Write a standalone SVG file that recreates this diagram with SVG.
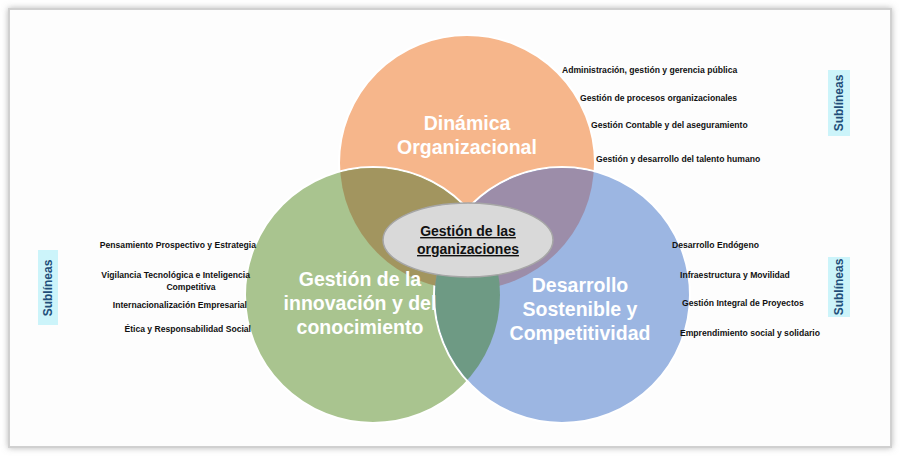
<svg xmlns="http://www.w3.org/2000/svg" width="900" height="456" viewBox="0 0 900 456">
<defs>
<filter id="sh" x="-5%" y="-5%" width="110%" height="110%"><feDropShadow dx="0" dy="0" stdDeviation="3" flood-color="#888" flood-opacity="0.6"/></filter>
<clipPath id="co"><circle cx="467" cy="163" r="127"/></clipPath>
<clipPath id="cg"><circle cx="373" cy="295" r="127"/></clipPath>
</defs>
<style>
.c{stroke:#fff;stroke-width:2}
.t{font-family:"Liberation Sans",Arial,sans-serif;font-weight:bold;fill:#fff;font-size:19.5px;text-anchor:middle}
.s{font-family:"Liberation Sans",Arial,sans-serif;font-weight:bold;font-size:8.6px;fill:#111}
.sb{fill:#CCF4FA}
.sl{font-family:"Liberation Sans",Arial,sans-serif;font-weight:bold;font-size:12px;fill:#1F4E79;text-anchor:middle}
</style>
<rect x="0" y="0" width="900" height="456" fill="#fff"/>
<rect x="9" y="9" width="882" height="438" fill="#fdfdfd" stroke="#d0d0d0" stroke-width="2" filter="url(#sh)"/>
<g id="dinamica"><circle class="c" cx="467" cy="163" r="128" fill="#F6B68B"/></g>
<g id="innovacion"><circle class="c" cx="373" cy="295" r="128" fill="#A9C48F"/></g>
<g id="desarrollo"><circle class="c" cx="562" cy="295" r="128" fill="#9CB6E2"/></g>
<circle cx="373" cy="295" r="127" fill="#A2955F" clip-path="url(#co)"/>
<circle cx="562" cy="295" r="127" fill="#9C8DA9" clip-path="url(#co)"/>
<circle cx="562" cy="295" r="127" fill="#6E9A84" clip-path="url(#cg)"/>
<text class="t" x="467" y="130">Dinámica</text>
<text class="t" x="467" y="154">Organizacional</text>
<text class="t" x="360" y="286">Gestión de la</text>
<text class="t" x="360" y="310">innovación y del</text>
<text class="t" x="360" y="334">conocimiento</text>
<text class="t" x="580" y="292">Desarrollo</text>
<text class="t" x="580" y="316">Sostenible y</text>
<text class="t" x="580" y="340">Competitividad</text>
<g id="centro">
<ellipse cx="468" cy="240" rx="85" ry="37" fill="#D9D9D9" stroke="#A6A6A6" stroke-width="1.5"/>
<text x="468" y="236" font-family="Liberation Sans,Arial,sans-serif" font-weight="bold" font-size="14" text-anchor="middle" text-decoration="underline" fill="#111">Gestión de las</text>
<text x="468" y="254" font-family="Liberation Sans,Arial,sans-serif" font-weight="bold" font-size="14" text-anchor="middle" text-decoration="underline" fill="#111">organizaciones</text>
</g>
<g id="sub-top">
<text class="s" x="562" y="73">Administración, gestión y gerencia pública</text>
<text class="s" x="580" y="101">Gestión de procesos organizacionales</text>
<text class="s" x="591" y="128">Gestión Contable y del aseguramiento</text>
<text class="s" x="596" y="162">Gestión y desarrollo del talento humano</text>
</g>
<g id="sub-left">
<text class="s" x="256" y="248" text-anchor="end">Pensamiento Prospectivo y Estrategia</text>
<text class="s" x="250" y="278" text-anchor="end">Vigilancia Tecnológica e Inteligencia</text>
<text class="s" x="191" y="290" text-anchor="middle">Competitiva</text>
<text class="s" x="247" y="308" text-anchor="end">Internacionalización Empresarial</text>
<text class="s" x="251" y="332" text-anchor="end">Ética y Responsabilidad Social</text>
</g>
<g id="sub-right">
<text class="s" x="672" y="248">Desarrollo Endógeno</text>
<text class="s" x="680" y="278">Infraestructura y Movilidad</text>
<text class="s" x="682" y="306">Gestión Integral de Proyectos</text>
<text class="s" x="680" y="336">Emprendimiento social y solidario</text>
</g>
<g id="label-left"><rect class="sb" x="38" y="250" width="20" height="75"/><text class="sl" transform="translate(52,288) rotate(-90)">Sublíneas</text></g>
<g id="label-right-top"><rect class="sb" x="828" y="70" width="22" height="66"/><text class="sl" transform="translate(843,103) rotate(-90)">Sublíneas</text></g>
<g id="label-right-bottom"><rect class="sb" x="828" y="257" width="22" height="60"/><text class="sl" transform="translate(843,287) rotate(-90)">Sublíneas</text></g>
<g id="connectors"></g>
</svg>
